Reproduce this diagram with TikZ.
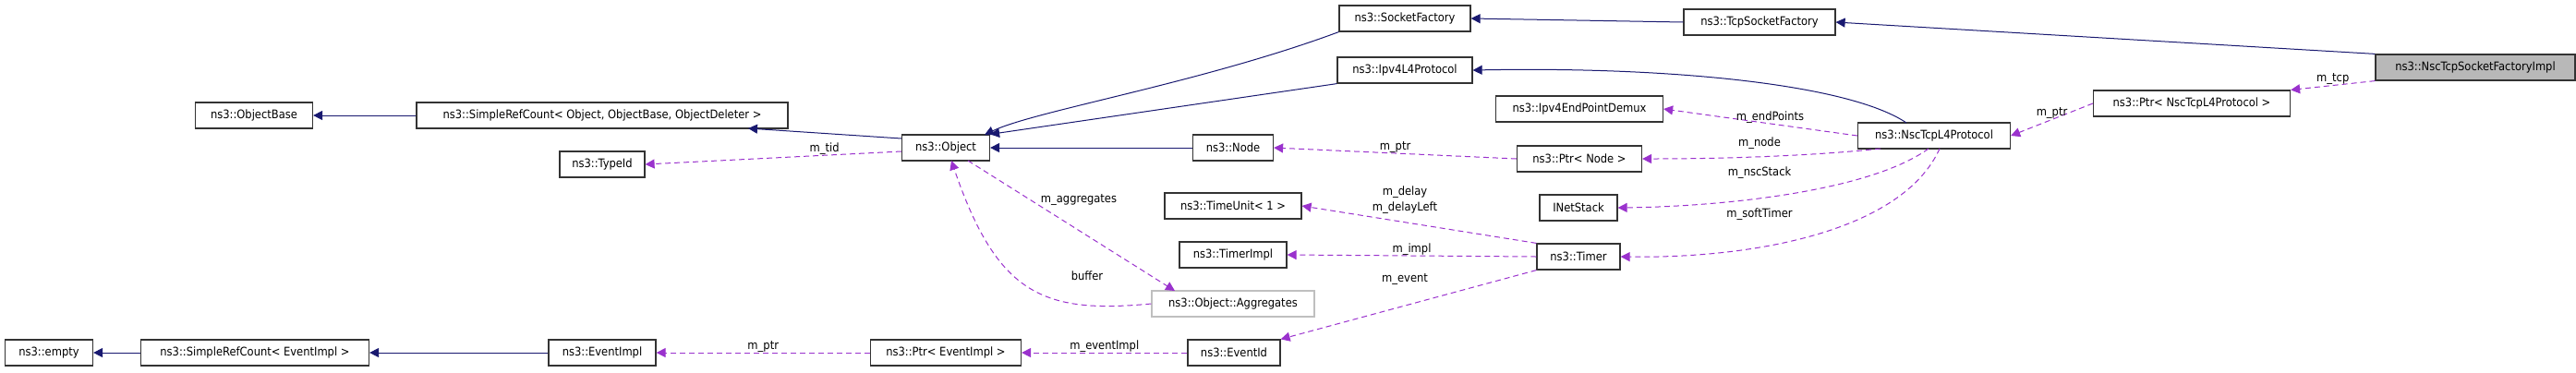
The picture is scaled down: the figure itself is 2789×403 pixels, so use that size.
\documentclass[tikz,border=0pt]{standalone}
\usepackage{fontspec}
\setmainfont{DejaVu Sans Condensed}
\usetikzlibrary{arrows.meta}
\definecolor{inh}{HTML}{191970}
\definecolor{use}{HTML}{9A32CD}
\begin{document}
\begin{tikzpicture}[x=0.5pt,y=-0.5pt,
 box/.style={draw=black!80,line width=0.6pt,fill=white,minimum height=14pt,inner sep=1pt,font=\fontsize{6.4}{7}\selectfont},
 inh/.style={draw=inh,line width=0.5pt,-{Triangle[length=5pt,width=5pt]}},
 use/.style={draw=use,line width=0.5pt,dash pattern=on 3pt off 2pt,-{Triangle[length=5pt,width=5pt]}},
 lab/.style={font=\fontsize{6.4}{7}\selectfont,inner sep=0pt}]
\useasboundingbox (0,0) rectangle (2789,403);
\def\bx#1#2#3#4#5{\node[box,minimum width=#4*0.5pt] (#1) at (#2,#3) {#5};}
\bx{obase}{275}{125}{127}{ns3::ObjectBase}
\bx{srcobj}{652}{125}{402}{ns3::SimpleRefCount< Object, ObjectBase, ObjectDeleter >}
\bx{typeid}{652}{178}{92}{ns3::TypeId}
\bx{empty}{53}{382}{95}{ns3::empty}
\bx{srcev}{276}{382}{247}{ns3::SimpleRefCount< EventImpl >}
\bx{evimpl}{652}{382}{116}{ns3::EventImpl}
\bx{obj}{1024}{160}{95}{ns3::Object}
\bx{sf}{1521}{20}{142}{ns3::SocketFactory}
\bx{tsf}{1905}{24}{164}{ns3::TcpSocketFactory}
\bx{l4}{1521}{76}{146}{ns3::Ipv4L4Protocol}
\bx{demux}{1710}{118}{181}{ns3::Ipv4EndPointDemux}
\bx{node}{1335}{160}{87}{ns3::Node}
\bx{pnode}{1710}{172}{135}{ns3::Ptr< Node >}
\bx{tu}{1335}{223}{148}{ns3::TimeUnit< 1 >}
\bx{inet}{1709}{225}{84}{INetStack}
\bx{timpl}{1335}{276}{116}{ns3::TimerImpl}
\bx{timer}{1709}{278}{90}{ns3::Timer}
\node[box,draw=black!25,minimum width=176*0.5pt] (agg) at (1335,329) {ns3::Object::Aggregates};
\bx{pev}{1024}{382}{163}{ns3::Ptr< EventImpl >}
\bx{evid}{1336}{382}{100}{ns3::EventId}
\bx{nsc}{2094}{147}{165}{ns3::NscTcpL4Protocol}
\bx{pnsc}{2373}{112}{213}{ns3::Ptr< NscTcpL4Protocol >}
\node[box,fill=black!28,minimum width=216*0.5pt] (impl) at (2680,73) {ns3::NscTcpSocketFactoryImpl};
% inheritance
\draw[inh] (srcobj.west) -- (obase.east);
\draw[inh] (obj.west|-0,150) -- (810,139);
\draw[inh] (evimpl.west) -- (srcev.east);
\draw[inh] (srcev.west) -- (empty.east);
\draw[inh] (node.west) -- (obj.east);
\draw[inh] (l4.south west) -- (obj.north east);
\draw[inh] (sf.south west) .. controls (1300,90) and (1120,120) .. (1066,146);
\draw[inh] (tsf.west) -- (sf.east);
\draw[inh] (impl.north west) -- (tsf.east);
\draw[inh] (2064,133) .. controls (2000,90) and (1800,72) .. (l4.east);
% usage
\draw[use] (obj.west|-0,164) -- (typeid.east) node[lab,pos=0.3,above] {m\_tid};
\draw[use] (1048,174) -- (1272,315) node[lab,pos=0.35,above right] {m\_aggregates};
\draw[use] (agg.west) .. controls (1130,340) and (1080,320) .. (1030,174);
\node[lab] at (1177,299) {buffer};
\draw[use] (pnode.west) -- (node.east) node[lab,midway,above] {m\_ptr};
\draw[use] (nsc.west) -- (demux.east) node[lab,pos=0.45,above] {m\_endPoints};
\draw[use] (2036,161) .. controls (1950,170) and (1850,172) .. (pnode.east);
\node[lab] at (1905,155) {m\_node};
\draw[use] (2088,161) .. controls (2020,210) and (1850,224) .. (inet.east);
\node[lab] at (1905,187) {m\_nscStack};
\draw[use] (2100,161) .. controls (2060,250) and (1900,280) .. (timer.east);
\node[lab] at (1905,232) {m\_softTimer};
\draw[use] (timer.north west) -- (tu.east);
\node[lab] at (1521,208) {m\_delay};
\node[lab] at (1521,225) {m\_delayLeft};
\draw[use] (timer.west) -- (timpl.east) node[lab,midway,above] {m\_impl};
\node[lab] at (1521,303) {m\_event};
\draw[use] (timer.south west) -- (evid.north east);
\draw[use] (evid.west) -- (pev.east) node[lab,midway,above] {m\_eventImpl};
\draw[use] (pev.west) -- (evimpl.east) node[lab,midway,above] {m\_ptr};
\draw[use] (pnsc.west) -- (nsc.east) node[lab,midway,above] {m\_ptr};
\draw[use] (impl.south west) -- (pnsc.north east) node[lab,midway,above] {m\_tcp};
\end{tikzpicture}
\end{document}
